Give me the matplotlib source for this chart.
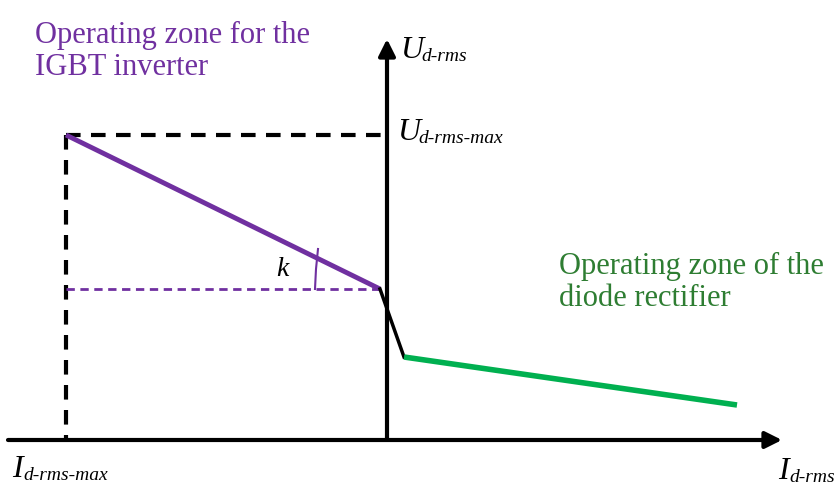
import matplotlib.pyplot as plt

# schematic coordinates (pixel-like units, y grows downward)
origin_x, origin_y = 387, 441
x_axis_end = 782
y_axis_end = 40

i_max_x = 66
u_max_y = 136

# characteristic: inverter zone (purple), transition (black), rectifier zone (green)
inverter_x = [66, 380]
inverter_y = [136, 290]
transition_x = [380, 404]
transition_y = [290, 358]
rectifier_x = [404, 737]
rectifier_y = [358, 406]

purple = "#7030A0"
green_line = "#00B050"
green_text = "#2E7D32"

fig = plt.figure(figsize=(8.39, 4.89), dpi=100)
ax = fig.add_axes([0, 0, 1, 1])
ax.set_xlim(0, 839)
ax.set_ylim(489, 0)
ax.axis("off")

# axes with arrows
ax.annotate("", xy=(x_axis_end, origin_y), xytext=(8, origin_y),
            arrowprops=dict(arrowstyle="-|>", color="black", lw=3,
                            mutation_scale=25, shrinkA=0, shrinkB=0))
ax.annotate("", xy=(origin_x, y_axis_end), xytext=(origin_x, origin_y),
            arrowprops=dict(arrowstyle="-|>", color="black", lw=3,
                            mutation_scale=25, shrinkA=0, shrinkB=0))

# dashed limits
ax.plot([i_max_x, i_max_x], [u_max_y, origin_y], ls=(0, (3.5, 2.5)), color="black", lw=3)
ax.plot([i_max_x, origin_x], [u_max_y, u_max_y], ls=(0, (3.5, 2.5)), color="black", lw=3)

# slope reference line and angle mark
ax.plot([i_max_x, 380], [290, 290], ls=(0, (3, 2)), color=purple, lw=2)
ax.plot([315, 316, 318], [290, 270, 250], color=purple, lw=1.5)
ax.text(282, 270, "k", fontsize=20, style="italic", family="Liberation Serif",
        ha="center", va="center")

ax.plot(inverter_x, inverter_y, color=purple, lw=3.5, solid_capstyle="butt")
ax.plot(transition_x, transition_y, color="black", lw=2.5)
ax.plot(rectifier_x, rectifier_y, color=green_line, lw=4, solid_capstyle="butt")

serif = "Liberation Serif"
ax.text(35, 21, "Operating zone for the\nIGBT inverter", color=purple, fontsize=22,
        family=serif, ha="left", va="top", linespacing=1.15)
ax.text(559, 252, "Operating zone of the\ndiode rectifier", color=green_text, fontsize=22,
        family=serif, ha="left", va="top", linespacing=1.15)


def sub_label(x, y, main, sub, gap):
    ax.text(x, y, main, fontsize=23, style="italic", family=serif, ha="left", va="baseline")
    ax.text(x + gap, y + 3, sub, fontsize=14, style="italic", family=serif,
            ha="left", va="baseline")


sub_label(400, 58, "U", "d-rms", 21)
sub_label(397, 140, "U", "d-rms-max", 21)
sub_label(12, 477, "I", "d-rms-max", 11)
sub_label(778, 479, "I", "d-rms", 11)

fig.savefig("out.png", dpi=100)
